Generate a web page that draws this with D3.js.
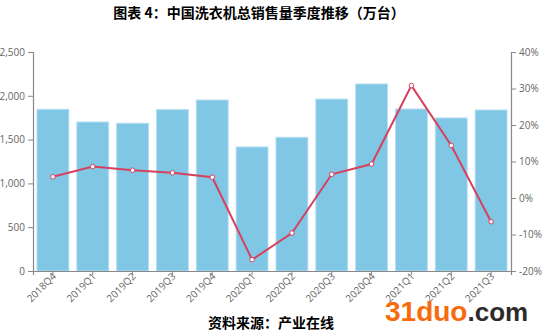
<!DOCTYPE html>
<html><head><meta charset="utf-8">
<script src="https://cdn.jsdelivr.net/npm/d3@7"></script>
<style>body{margin:0;background:#fff}svg{display:block}</style>
</head><body>
<svg id="c" width="548" height="333"></svg>
<script>
const categories = ["2018Q4","2019Q1","2019Q2","2019Q3","2019Q4","2020Q1","2020Q2","2020Q3","2020Q4","2021Q1","2021Q2","2021Q3"];
const sales = [1846,1701,1686,1842,1952,1416,1526,1963,2135,1849,1747,1838];
const growth = [5.8,8.6,7.6,6.9,5.7,-16.9,-9.6,6.5,9.3,30.8,14.4,-6.5];
const leftTicks = [0,500,1000,1500,2000,2500];
const rightTicks = [-20,-10,0,10,20,30,40];

const svg = d3.select("#c");
const m = {l:33, r:511, t:52, b:271};
const x = d3.scaleBand().domain(categories).range([m.l, m.r]).paddingInner(0.2).paddingOuter(0.1);
const yL = d3.scaleLinear().domain([0,2500]).range([m.b, m.t]);
const yR = d3.scaleLinear().domain([-20,40]).range([m.b, m.t]);

// title
svg.append("text").attr("x",259).attr("y",18).attr("text-anchor","middle")
  .style("font-family","'Noto Sans CJK SC'").style("font-weight","bold").style("font-size","14px").attr("fill","#000")
  .text("图表 4：中国洗衣机总销售量季度推移（万台）");

// bars
svg.append("g").selectAll("rect").data(sales).join("rect")
  .attr("x",(d,i)=>x(categories[i])).attr("width",x.bandwidth())
  .attr("y",d=>yL(d)).attr("height",d=>m.b-yL(d))
  .attr("fill","#80c6e5").attr("stroke","#b5def2").attr("stroke-width",1);

// axes
const tickFont = g => g.selectAll("text").style("font-family","'Open Sans'").style("font-size","10px").attr("fill","#666");
const axisStyle = g => { g.selectAll("path,line").attr("stroke","#888"); g.select(".domain").attr("stroke-width",1.2); };

svg.append("g").attr("transform",`translate(${m.l},0)`)
  .call(d3.axisLeft(yL).tickValues(leftTicks).tickFormat(d3.format(",")).tickSizeOuter(0).tickSize(5).tickPadding(3))
  .call(tickFont).call(axisStyle);

svg.append("g").attr("transform",`translate(${m.r},0)`)
  .call(d3.axisRight(yR).tickValues(rightTicks).tickFormat(d=>d+"%").tickSizeOuter(0).tickSize(5).tickPadding(3))
  .call(tickFont).call(axisStyle);

svg.append("g").attr("transform",`translate(0,${m.b})`)
  .call(d3.axisBottom(x).tickSizeOuter(0).tickSize(4))
  .call(tickFont).call(axisStyle)
  .call(g=>g.selectAll("text").attr("text-anchor","end").attr("dy",null).attr("y",null)
     .attr("transform","translate(4,6) rotate(-45)"));

// line
const pts = growth.map((d,i)=>[x(categories[i])+x.bandwidth()/2, yR(d)]);
svg.append("path").attr("d",d3.line()(pts)).attr("fill","none").attr("stroke","#d5415e").attr("stroke-width",2);
svg.append("g").selectAll("circle").data(pts).join("circle")
  .attr("cx",d=>d[0]).attr("cy",d=>d[1]).attr("r",2.3)
  .attr("fill","#fff").attr("stroke","#d5415e").attr("stroke-width",1);

// source
svg.append("text").attr("x",271).attr("y",328).attr("text-anchor","middle")
  .style("font-family","'Noto Sans CJK SC'").style("font-weight","bold").style("font-size","14px").attr("fill","#000")
  .text("资料来源：产业在线");

// watermark
const wm = svg.append("text").attr("x",385).attr("y",321)
  .style("font-family","'Liberation Sans'").style("font-weight","bold");
wm.append("tspan").attr("fill","#f76b0c").style("font-size","28px").text("31duo");
wm.append("tspan").attr("fill","#2b2b2b").style("font-size","26px").text(".com");
</script>
</body></html>
